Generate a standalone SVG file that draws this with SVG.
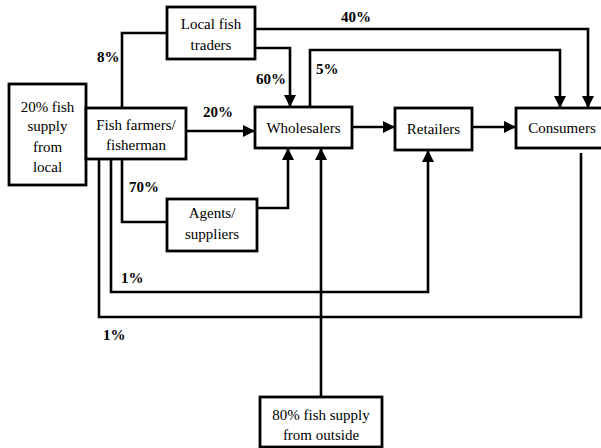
<svg xmlns="http://www.w3.org/2000/svg" width="601" height="448" viewBox="0 0 601 448">
<style>
.box{fill:#fff;stroke:#000;stroke-width:2.8}
.t{font-size:15px;text-anchor:middle}
.p{font-size:15px;font-weight:bold}
.c{fill:none;stroke:#000;stroke-width:2.6}
</style>
<defs>
<marker id="ah" markerUnits="userSpaceOnUse" markerWidth="14" markerHeight="14" viewBox="0 0 14 14" refX="13" refY="7" orient="auto">
<path d="M1,1 L13,7 L1,13 Z" fill="#000"/>
</marker>
</defs>
<rect width="601" height="448" fill="#fff"/>
<g id="connectors">
<path class="c" d="M122,108 V33 H167"/>
<path class="c" d="M255,48 H290 V107" marker-end="url(#ah)"/>
<path class="c" d="M255,29 H588 V108" marker-end="url(#ah)"/>
<path class="c" d="M310,107 V50 H560 V108" marker-end="url(#ah)"/>
<path class="c" d="M186,131 H255" marker-end="url(#ah)"/>
<path class="c" d="M352,127 H395" marker-end="url(#ah)"/>
<path class="c" d="M472,127 H516" marker-end="url(#ah)"/>
<path class="c" d="M122,159 V222 H167"/>
<path class="c" d="M257,208 H288 V148" marker-end="url(#ah)"/>
<path class="c" d="M111,159 V292 H428 V150" marker-end="url(#ah)"/>
<path class="c" d="M99,159 V317 H581 V153"/>
<path class="c" d="M321,397 V148" marker-end="url(#ah)"/>
</g>
<g id="labels" font-family="Liberation Serif, serif">
<text class="p" x="97" y="62">8%</text>
<text class="p" x="256" y="84">60%</text>
<text class="p" x="341" y="22">40%</text>
<text class="p" x="316" y="74">5%</text>
<text class="p" x="203" y="117">20%</text>
<text class="p" x="129" y="192">70%</text>
<text class="p" x="121" y="283">1%</text>
<text class="p" x="103" y="340">1%</text>
</g>
<g id="local-supply" font-family="Liberation Serif, serif">
<rect class="box" x="9" y="84" width="77" height="101"/>
<text class="t" x="47.5" y="112">20% fish</text>
<text class="t" x="47.5" y="131">supply</text>
<text class="t" x="47.5" y="152">from</text>
<text class="t" x="47.5" y="172">local</text>
</g>
<g id="fish-farmers" font-family="Liberation Serif, serif">
<rect class="box" x="86" y="108" width="100" height="51"/>
<text class="t" x="136" y="130">Fish farmers/</text>
<text class="t" x="136" y="150">fisherman</text>
</g>
<g id="local-traders" font-family="Liberation Serif, serif">
<rect class="box" x="167" y="7" width="88" height="52"/>
<text class="t" x="211" y="29">Local fish</text>
<text class="t" x="211" y="50">traders</text>
</g>
<g id="wholesalers" font-family="Liberation Serif, serif">
<rect class="box" x="255" y="107" width="97" height="41"/>
<text class="t" x="303.5" y="133">Wholesalers</text>
</g>
<g id="retailers" font-family="Liberation Serif, serif">
<rect class="box" x="395" y="108" width="77" height="42"/>
<text class="t" x="433.5" y="134">Retailers</text>
</g>
<g id="consumers" font-family="Liberation Serif, serif">
<rect class="box" x="516" y="108" width="92" height="40"/>
<text class="t" x="562" y="133">Consumers</text>
</g>
<g id="agents" font-family="Liberation Serif, serif">
<rect class="box" x="167" y="199" width="90" height="52"/>
<text class="t" x="212" y="218">Agents/</text>
<text class="t" x="212" y="239">suppliers</text>
</g>
<g id="outside-supply" font-family="Liberation Serif, serif">
<rect class="box" x="260" y="397" width="122" height="50"/>
<text class="t" x="321" y="420">80% fish supply</text>
<text class="t" x="321" y="440">from outside</text>
</g>
</svg>
